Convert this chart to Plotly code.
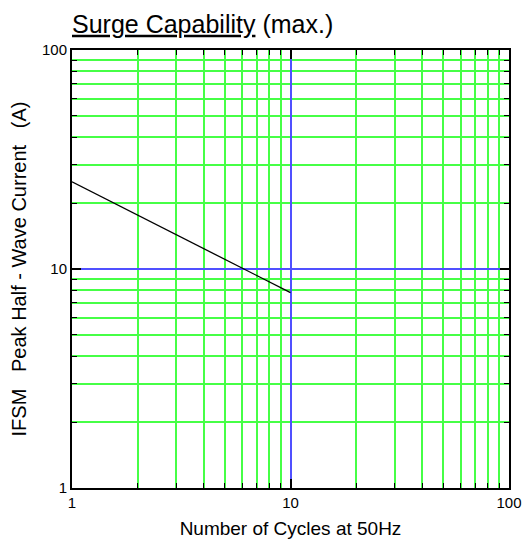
import plotly.graph_objects as go

# Data
cycles = [1, 10]
ifsm_current = [25, 7.8]

# Log-axis tick positions (decades and in-between digits)
grid_vals = [1, 2, 3, 4, 5, 6, 7, 8, 9, 10, 20, 30, 40, 50, 60, 70, 80, 90, 100]
grid_labels = ["1", "", "", "", "", "", "", "", "", "10", "", "", "", "", "", "", "", "", "100"]
major_vals = [10]

title_text = "<u>Surge Capability</u> (max.)"
x_title = "Number of Cycles at 50Hz"
sp = "\u00a0" * 3
y_title = f"IFSM{sp}Peak Half - Wave Current{sp}(A)"

FONT = "Liberation Sans, Arial, sans-serif"
GREEN = "rgb(70,255,70)"
BLUE = "rgb(80,80,255)"

fig = go.Figure()
fig.add_trace(go.Scatter(
    x=cycles, y=ifsm_current, mode="lines",
    line=dict(color="black", width=1.3),
    showlegend=False, hoverinfo="skip",
))
# invisible trace to anchor the overlay axes
fig.add_trace(go.Scatter(
    x=cycles, y=ifsm_current, xaxis="x2", yaxis="y2", mode="lines",
    line=dict(color="rgba(0,0,0,0)", width=0),
    showlegend=False, hoverinfo="skip",
))

base = dict(
    type="log", range=[0, 2], zeroline=False, automargin=False,
    tickmode="array", tickvals=grid_vals, ticktext=grid_labels,
    showline=True, linecolor="black", linewidth=2, mirror="allticks",
    ticks="inside", ticklen=5, tickwidth=1.2, tickcolor="black",
    showgrid=True, gridcolor=GREEN, gridwidth=1.5,
    tickfont=dict(family=FONT, size=15, color="black"),
)
overlay = dict(
    type="log", range=[0, 2], zeroline=False, automargin=False,
    tickmode="array", tickvals=major_vals, showticklabels=False,
    showline=False, mirror="allticks",
    ticks="inside", ticklen=9, tickwidth=1.5, tickcolor="black",
    showgrid=True, gridcolor=BLUE, gridwidth=1.5,
)

fig.update_layout(
    width=527, height=545,
    margin=dict(l=72, r=18, t=50, b=57),
    paper_bgcolor="white", plot_bgcolor="white",
    xaxis=dict(**base,
               title=dict(text=x_title, font=dict(family=FONT, size=19, color="black"), standoff=12)),
    yaxis=dict(**base,
               title=dict(text=y_title, font=dict(family=FONT, size=20, color="black"), standoff=10)),
    xaxis2=dict(**overlay, overlaying="x", anchor="y2", side="bottom"),
    yaxis2=dict(**overlay, overlaying="y", anchor="x2", side="left"),
    title=dict(text=title_text, x=72/527, xanchor="left", xref="container",
               y=1 - 24/545, yanchor="middle", yref="container",
               font=dict(family=FONT, size=25, color="black")),
    font=dict(family=FONT, color="black"),
)

fig.write_html("out.html", config={"displayModeBar": False},
               post_script="document.body.style.margin='0';")
